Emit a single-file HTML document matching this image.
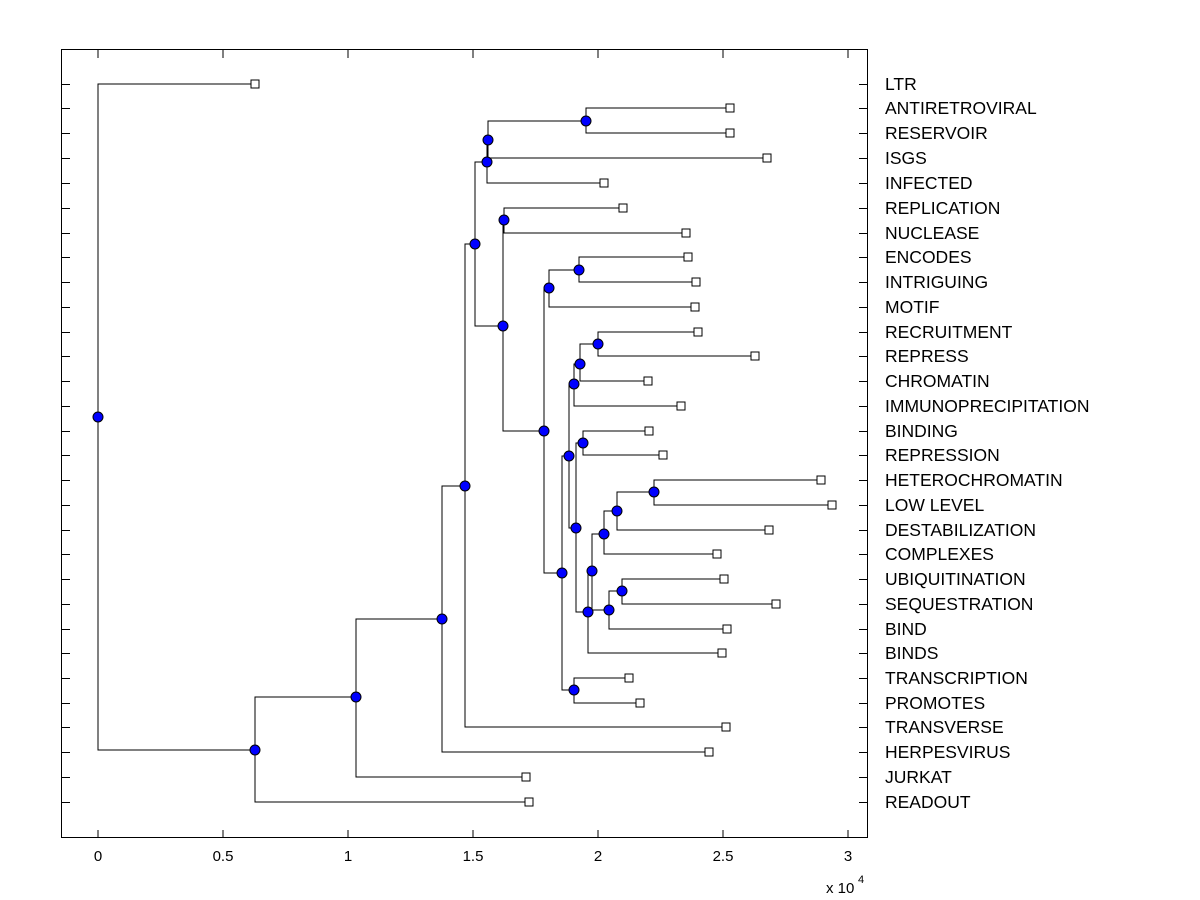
<!DOCTYPE html>
<html><head><meta charset="utf-8"><style>body{margin:0;background:#fff}svg{display:block}text{font-family:"Liberation Sans",Arial,sans-serif}</style></head><body>
<svg width="1200" height="900" xmlns="http://www.w3.org/2000/svg">
<rect width="1200" height="900" fill="#fff"/>
<rect x="61.5" y="49.5" width="806" height="788" fill="#fff" stroke="#000" shape-rendering="crispEdges"/>
<g fill="none" stroke="#000" stroke-width="1" shape-rendering="crispEdges">
<path d="M255 84H98V750H255"/>
<path d="M356 697H255V802H529"/>
<path d="M442 619H356V777H526"/>
<path d="M465 486H442V752H709"/>
<path d="M475 244H465V727H726"/>
<path d="M487 162H475V326H503"/>
<path d="M488 140H487V183H604"/>
<path d="M586 121H488V158H767"/>
<path d="M730 108H586V133H730"/>
<path d="M504 220H503V431H544"/>
<path d="M623 208H504V233H686"/>
<path d="M549 288H544V573H562"/>
<path d="M579 270H549V307H695"/>
<path d="M688 257H579V282H696"/>
<path d="M569 456H562V690H574"/>
<path d="M629 678H574V703H640"/>
<path d="M574 384H569V528H576"/>
<path d="M580 364H574V406H681"/>
<path d="M598 344H580V381H648"/>
<path d="M698 332H598V356H755"/>
<path d="M583 443H576V612H588"/>
<path d="M649 431H583V455H663"/>
<path d="M592 571H588V653H722"/>
<path d="M604 534H592V610H609"/>
<path d="M617 511H604V554H717"/>
<path d="M654 492H617V530H769"/>
<path d="M821 480H654V505H832"/>
<path d="M622 591H609V629H727"/>
<path d="M724 579H622V604H776"/>
</g>
<g fill="#fff" stroke="#000" shape-rendering="crispEdges">
<rect x="251" y="80" width="8" height="8"/><rect x="726" y="104" width="8" height="8"/><rect x="726" y="129" width="8" height="8"/><rect x="763" y="154" width="8" height="8"/><rect x="600" y="179" width="8" height="8"/><rect x="619" y="204" width="8" height="8"/><rect x="682" y="229" width="8" height="8"/><rect x="684" y="253" width="8" height="8"/><rect x="692" y="278" width="8" height="8"/><rect x="691" y="303" width="8" height="8"/><rect x="694" y="328" width="8" height="8"/><rect x="751" y="352" width="8" height="8"/><rect x="644" y="377" width="8" height="8"/><rect x="677" y="402" width="8" height="8"/><rect x="645" y="427" width="8" height="8"/><rect x="659" y="451" width="8" height="8"/><rect x="817" y="476" width="8" height="8"/><rect x="828" y="501" width="8" height="8"/><rect x="765" y="526" width="8" height="8"/><rect x="713" y="550" width="8" height="8"/><rect x="720" y="575" width="8" height="8"/><rect x="772" y="600" width="8" height="8"/><rect x="723" y="625" width="8" height="8"/><rect x="718" y="649" width="8" height="8"/><rect x="625" y="674" width="8" height="8"/><rect x="636" y="699" width="8" height="8"/><rect x="722" y="723" width="8" height="8"/><rect x="705" y="748" width="8" height="8"/><rect x="522" y="773" width="8" height="8"/><rect x="525" y="798" width="8" height="8"/>
</g>
<g fill="#0000ff" stroke="#000" stroke-width="1">
<circle cx="98" cy="417" r="5"/><circle cx="255" cy="750" r="5"/><circle cx="356" cy="697" r="5"/><circle cx="442" cy="619" r="5"/><circle cx="465" cy="486" r="5"/><circle cx="475" cy="244" r="5"/><circle cx="487" cy="162" r="5"/><circle cx="488" cy="140" r="5"/><circle cx="586" cy="121" r="5"/><circle cx="503" cy="326" r="5"/><circle cx="504" cy="220" r="5"/><circle cx="544" cy="431" r="5"/><circle cx="549" cy="288" r="5"/><circle cx="579" cy="270" r="5"/><circle cx="562" cy="573" r="5"/><circle cx="574" cy="690" r="5"/><circle cx="569" cy="456" r="5"/><circle cx="574" cy="384" r="5"/><circle cx="580" cy="364" r="5"/><circle cx="598" cy="344" r="5"/><circle cx="576" cy="528" r="5"/><circle cx="583" cy="443" r="5"/><circle cx="588" cy="612" r="5"/><circle cx="592" cy="571" r="5"/><circle cx="604" cy="534" r="5"/><circle cx="617" cy="511" r="5"/><circle cx="654" cy="492" r="5"/><circle cx="609" cy="610" r="5"/><circle cx="622" cy="591" r="5"/>
</g>
<g stroke="#000" shape-rendering="crispEdges">
<path d="M98 838v-8M223 838v-8M348 838v-8M473 838v-8M598 838v-8M723 838v-8M848 838v-8M98 50v8M223 50v8M348 50v8M473 50v8M598 50v8M723 50v8M848 50v8"/>
<path d="M62 84.5h8M62 108.5h8M62 133.5h8M62 158.5h8M62 183.5h8M62 208.5h8M62 233.5h8M62 257.5h8M62 282.5h8M62 307.5h8M62 332.5h8M62 356.5h8M62 381.5h8M62 406.5h8M62 431.5h8M62 455.5h8M62 480.5h8M62 505.5h8M62 530.5h8M62 554.5h8M62 579.5h8M62 604.5h8M62 629.5h8M62 653.5h8M62 678.5h8M62 703.5h8M62 727.5h8M62 752.5h8M62 777.5h8M62 802.5h8"/>
<path d="M867 84.5h-8M867 108.5h-8M867 133.5h-8M867 158.5h-8M867 183.5h-8M867 208.5h-8M867 233.5h-8M867 257.5h-8M867 282.5h-8M867 307.5h-8M867 332.5h-8M867 356.5h-8M867 381.5h-8M867 406.5h-8M867 431.5h-8M867 455.5h-8M867 480.5h-8M867 505.5h-8M867 530.5h-8M867 554.5h-8M867 579.5h-8M867 604.5h-8M867 629.5h-8M867 653.5h-8M867 678.5h-8M867 703.5h-8M867 727.5h-8M867 752.5h-8M867 777.5h-8M867 802.5h-8"/>
</g>
<g font-size="15" text-anchor="middle" fill="#000">
<text x="98" y="861">0</text><text x="223" y="861">0.5</text><text x="348" y="861">1</text><text x="473" y="861">1.5</text><text x="598" y="861">2</text><text x="723" y="861">2.5</text><text x="848" y="861">3</text>
</g>
<text x="826" y="893" font-size="15">x 10</text><text x="858" y="883" font-size="11">4</text>
<g font-size="17.5" fill="#000">
<text x="885" y="90">LTR</text><text x="885" y="114">ANTIRETROVIRAL</text><text x="885" y="139">RESERVOIR</text><text x="885" y="164">ISGS</text><text x="885" y="189">INFECTED</text><text x="885" y="214">REPLICATION</text><text x="885" y="239">NUCLEASE</text><text x="885" y="263">ENCODES</text><text x="885" y="288">INTRIGUING</text><text x="885" y="313">MOTIF</text><text x="885" y="338">RECRUITMENT</text><text x="885" y="362">REPRESS</text><text x="885" y="387">CHROMATIN</text><text x="885" y="412">IMMUNOPRECIPITATION</text><text x="885" y="437">BINDING</text><text x="885" y="461">REPRESSION</text><text x="885" y="486">HETEROCHROMATIN</text><text x="885" y="511">LOW LEVEL</text><text x="885" y="536">DESTABILIZATION</text><text x="885" y="560">COMPLEXES</text><text x="885" y="585">UBIQUITINATION</text><text x="885" y="610">SEQUESTRATION</text><text x="885" y="635">BIND</text><text x="885" y="659">BINDS</text><text x="885" y="684">TRANSCRIPTION</text><text x="885" y="709">PROMOTES</text><text x="885" y="733">TRANSVERSE</text><text x="885" y="758">HERPESVIRUS</text><text x="885" y="783">JURKAT</text><text x="885" y="808">READOUT</text>
</g>
</svg>
</body></html>
